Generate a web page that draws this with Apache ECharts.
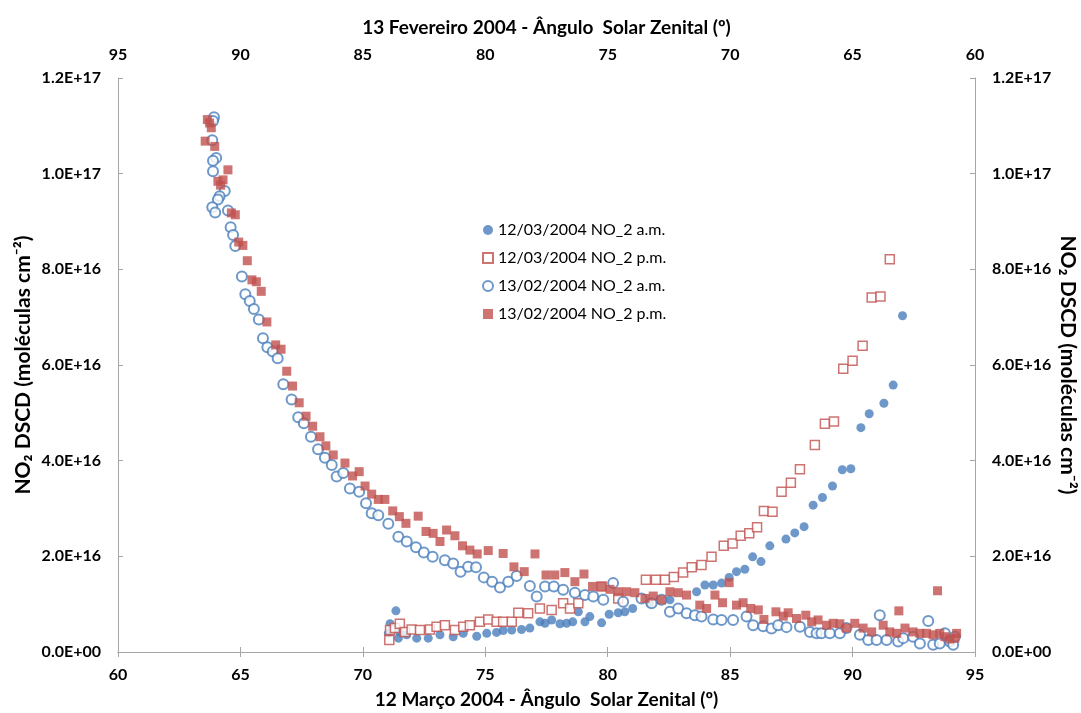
<!DOCTYPE html>
<html>
<head>
<meta charset="utf-8">
<script src="https://cdn.jsdelivr.net/npm/echarts@6/dist/echarts.min.js"></script>
<style>
  html, body { margin: 0; padding: 0; background: #fff; overflow: hidden; }
  #chart { width: 1081px; height: 713px; }
</style>
</head>
<body>
<div id="chart"></div>
<script>
// NO2 DSCD values are in units of 1e16 molecules cm-2

// 12/03/2004 a.m. (bottom axis SZA)
const mar12AmSza = [71.35, 71.11, 71.04, 71.19, 71.51, 71.45, 71.79, 72.20, 72.67, 73.15, 73.69, 74.10, 74.65, 75.06, 75.46, 75.73,
  76.08, 76.48, 76.82, 77.23, 77.44, 77.71, 78.05, 78.32, 78.57, 78.80, 79.07, 79.27, 79.75, 80.06, 80.43, 80.70,
  81.02, 81.72, 82.13, 82.54, 83.63, 83.97, 84.31, 84.65, 84.96, 85.26, 85.60, 85.92, 86.26, 86.62, 87.28, 87.64,
  88.02, 88.39, 88.77, 89.18, 89.58, 89.93, 90.34, 90.68, 91.28, 91.66, 92.04];
const mar12AmNo2 = [0.86, 0.59, 0.39, 0.46, 0.42, 0.29, 0.36, 0.29, 0.29, 0.36, 0.32, 0.39, 0.33, 0.39, 0.41, 0.45,
  0.46, 0.47, 0.50, 0.63, 0.60, 0.67, 0.59, 0.60, 0.63, 0.84, 0.63, 0.74, 0.61, 0.79, 0.82, 0.84,
  0.91, 1.02, 1.09, 1.09, 1.26, 1.40, 1.40, 1.44, 1.56, 1.68, 1.73, 1.99, 1.89, 2.22, 2.36, 2.49,
  2.62, 3.07, 3.23, 3.47, 3.81, 3.83, 4.69, 4.98, 5.20, 5.58, 7.03];

// 12/03/2004 p.m. (bottom axis SZA)
const mar12PmSza = [71.08, 71.11, 71.31, 71.51, 71.72, 71.99, 72.33, 72.74, 73.01, 73.35, 73.76, 74.10, 74.37, 74.78, 75.12, 75.46,
  75.73, 76.08, 76.35, 76.75, 77.23, 77.71, 78.18, 78.46, 78.80, 79.75, 80.43, 81.56, 81.97, 82.34, 82.70, 83.08,
  83.43, 83.83, 84.24, 84.74, 85.10, 85.43, 85.78, 86.10, 86.38, 86.73, 87.10, 87.48, 87.85, 88.46, 88.87, 89.24,
  89.62, 90.00, 90.41, 90.78, 91.14, 91.52];
const mar12PmNo2 = [0.25, 0.46, 0.50, 0.59, 0.42, 0.47, 0.46, 0.47, 0.53, 0.56, 0.46, 0.53, 0.56, 0.63, 0.68, 0.63,
  0.63, 0.63, 0.82, 0.81, 0.91, 0.88, 1.02, 0.91, 1.02, 1.37, 1.12, 1.51, 1.51, 1.51, 1.57, 1.66,
  1.77, 1.82, 1.99, 2.22, 2.27, 2.43, 2.48, 2.61, 2.95, 2.93, 3.35, 3.54, 3.82, 4.33, 4.77, 4.82,
  5.92, 6.09, 6.40, 7.41, 7.43, 8.21];

// 13/02/2004 a.m. (top axis SZA)
const feb13AmSza = [91.08, 91.12, 91.15, 90.99, 91.12, 91.12, 90.64, 90.85, 90.92, 91.15, 91.03, 90.51, 90.40, 90.30, 90.21, 89.94,
  89.80, 89.62, 89.45, 89.25, 89.08, 88.90, 88.68, 88.48, 88.25, 87.91, 87.64, 87.41, 87.12, 86.83, 86.55, 86.27,
  86.07, 85.80, 85.53, 85.15, 84.87, 84.64, 84.37, 83.96, 83.55, 83.21, 82.83, 82.51, 82.15, 81.65, 81.31, 81.01,
  80.70, 80.38, 80.06, 79.72, 79.40, 79.06, 78.72, 78.18, 77.90, 77.56, 77.20, 76.82, 76.34, 75.93, 75.59, 75.18,
  74.78, 74.37, 73.62, 73.21, 72.80, 72.46, 72.12, 71.78, 71.44, 71.17, 70.69, 70.35, 69.88, 69.33, 69.06, 68.65,
  68.31, 68.04, 67.70, 67.15, 66.74, 66.47, 66.27, 65.93, 65.52, 65.25, 64.70, 64.36, 64.02, 63.89, 63.61, 63.14,
  62.93, 62.53, 62.25, 61.91, 61.71, 61.44, 61.23, 61.03, 60.89, 60.82];
const feb13AmNo2 = [11.18, 11.10, 10.70, 10.33, 10.27, 10.05, 9.64, 9.53, 9.46, 9.30, 9.19, 9.23, 8.88, 8.72, 8.49, 7.85,
  7.48, 7.34, 7.17, 6.95, 6.56, 6.37, 6.28, 6.14, 5.60, 5.28, 4.91, 4.78, 4.50, 4.24, 4.06, 3.91,
  3.67, 3.74, 3.42, 3.35, 3.11, 2.90, 2.86, 2.68, 2.41, 2.31, 2.19, 2.08, 1.99, 1.92, 1.85, 1.68,
  1.78, 1.77, 1.56, 1.47, 1.35, 1.47, 1.59, 1.38, 1.16, 1.37, 1.37, 1.30, 1.24, 1.19, 1.16, 1.09,
  1.44, 1.05, 1.12, 1.02, 1.09, 0.84, 0.91, 0.81, 0.77, 0.74, 0.68, 0.67, 0.67, 0.74, 0.56, 0.54,
  0.49, 0.56, 0.52, 0.53, 0.42, 0.39, 0.39, 0.39, 0.39, 0.50, 0.36, 0.25, 0.25, 0.77, 0.25, 0.22,
  0.29, 0.32, 0.18, 0.65, 0.15, 0.18, 0.39, 0.22, 0.15, 0.32];

// 13/02/2004 p.m. (top axis SZA)
const feb13PmSza = [91.35, 91.26, 91.19, 91.44, 91.05, 90.51, 90.92, 90.71, 90.81, 90.37, 90.21, 90.07, 89.90, 89.72, 89.53, 89.35,
  89.15, 88.92, 88.56, 88.34, 88.11, 87.87, 87.60, 87.32, 87.05, 86.75, 86.51, 86.21, 85.73, 85.42, 85.15, 84.91,
  84.64, 84.37, 84.10, 83.78, 83.51, 83.24, 82.74, 82.42, 82.13, 81.85, 81.58, 81.24, 80.93, 80.63, 80.33, 79.88,
  79.27, 78.83, 78.41, 77.97, 77.52, 77.16, 76.75, 76.34, 75.97, 75.62, 75.25, 74.91, 74.57, 74.23, 73.89, 73.48,
  73.14, 72.80, 72.46, 72.12, 71.78, 71.24, 70.96, 70.62, 70.31, 70.04, 69.74, 69.47, 69.16, 68.85, 68.62, 68.13,
  67.83, 67.63, 67.29, 66.91, 66.67, 66.41, 66.06, 65.79, 65.52, 65.25, 64.91, 64.57, 64.22, 63.75, 63.48, 63.20,
  63.11, 62.86, 62.53, 62.25, 61.98, 61.71, 61.53, 61.44, 61.23, 61.03, 60.82, 60.75];
const feb13PmNo2 = [11.13, 11.06, 10.96, 10.68, 10.57, 10.08, 9.84, 9.87, 9.76, 9.18, 9.14, 8.57, 8.50, 8.18, 7.78, 7.74,
  7.54, 6.90, 6.42, 6.33, 5.87, 5.56, 5.21, 4.93, 4.72, 4.50, 4.31, 4.12, 3.95, 3.68, 3.77, 3.47,
  3.30, 3.19, 3.19, 2.95, 2.83, 2.69, 2.84, 2.52, 2.48, 2.31, 2.55, 2.43, 2.22, 2.13, 2.05, 2.12,
  2.06, 1.78, 1.68, 2.05, 1.61, 1.61, 1.66, 1.47, 1.63, 1.37, 1.37, 1.31, 1.26, 1.26, 1.24, 1.12,
  1.17, 1.09, 1.26, 1.24, 1.19, 0.98, 0.91, 1.19, 1.03, 1.45, 0.98, 1.03, 0.91, 0.88, 0.68, 0.84,
  0.75, 0.82, 0.70, 0.77, 0.63, 0.67, 0.56, 0.60, 0.59, 0.50, 0.60, 0.50, 0.42, 0.56, 0.42, 0.39,
  0.86, 0.50, 0.42, 0.39, 0.39, 0.36, 1.28, 0.39, 0.32, 0.27, 0.29, 0.39];

const seriesNames = ['12/03/2004 NO_2 a.m.', '12/03/2004 NO_2 p.m.', '13/02/2004 NO_2 a.m.', '13/02/2004 NO_2 p.m.'];

const blue = '#4a7ebb';
const red = '#c0504d';
const axisGrey = '#a6a6a6';
const font = 'Lato, "Open Sans", sans-serif';

function pairs(xs, ys) {
  return xs.map((x, i) => [x, ys[i]]);
}

function sci(v) {
  const s = (v * 1e16).toExponential(1);
  const parts = s.split('e');
  const sign = parts[1][0];
  const exp = parts[1].slice(1).padStart(2, '0');
  return parts[0] + 'E' + sign + exp;
}

const xCommon = {
  type: 'value',
  min: 60,
  max: 95,
  interval: 5,
  splitLine: { show: false },
  axisLine: { show: true, lineStyle: { color: axisGrey, width: 1 } },
  axisTick: { show: true, inside: true, length: 5, lineStyle: { color: axisGrey } },
  axisLabel: { color: '#000', fontFamily: font, fontWeight: 'bold', fontSize: 16 },
  nameLocation: 'middle',
  nameMoveOverlap: false,
  nameTextStyle: { color: '#000', fontFamily: font, fontWeight: 'bold', fontSize: 19 }
};

const yCommon = {
  type: 'value',
  min: 0,
  max: 12,
  interval: 2,
  splitLine: { show: false },
  axisLine: { show: true, lineStyle: { color: axisGrey, width: 1 } },
  axisTick: { show: true, inside: true, length: 5, lineStyle: { color: axisGrey } },
  axisLabel: { color: '#000', fontFamily: font, fontWeight: 'bold', fontSize: 16, margin: 17, formatter: sci },
  name: 'NO₂ DSCD (moléculas cm⁻²)',
  nameLocation: 'middle',
  nameMoveOverlap: false,
  nameTextStyle: { color: '#000', fontFamily: font, fontWeight: 'bold', fontSize: 21 }
};

var myChart = echarts.init(document.getElementById('chart'), null, { renderer: 'canvas' });
var option = {
  backgroundColor: '#fff',
  animation: false,
  grid: { left: 118, top: 78, width: 857, height: 574, outerBoundsMode: 'none', containLabel: false },
  legend: {
    orient: 'vertical',
    left: 477,
    top: 217,
    itemWidth: 10,
    itemHeight: 10,
    itemGap: 12,
    textStyle: { color: '#000', fontFamily: font, fontSize: 16 },
    data: seriesNames
  },
  xAxis: [
    Object.assign({}, xCommon, {
      position: 'bottom',
      name: '12 Março 2004 - Ângulo  Solar Zenital (º)',
      nameGap: 38,
      axisLabel: Object.assign({}, xCommon.axisLabel, { margin: 15 })
    }),
    Object.assign({}, xCommon, {
      position: 'top',
      inverse: true,
      name: '13 Fevereiro 2004 - Ângulo  Solar Zenital (º)',
      nameGap: 41,
      axisLabel: Object.assign({}, xCommon.axisLabel, { margin: 15 })
    })
  ],
  yAxis: [
    Object.assign({}, yCommon, { position: 'left', nameGap: 84, nameRotate: 90 }),
    Object.assign({}, yCommon, { position: 'right', nameGap: 82, nameRotate: -90 })
  ],
  series: [
    {
      name: seriesNames[0],
      type: 'scatter',
      xAxisIndex: 0,
      yAxisIndex: 0,
      symbol: 'circle',
      symbolSize: 9,
      itemStyle: { color: blue },
      data: pairs(mar12AmSza, mar12AmNo2)
    },
    {
      name: seriesNames[1],
      type: 'scatter',
      xAxisIndex: 0,
      yAxisIndex: 0,
      symbol: 'rect',
      symbolSize: 9,
      itemStyle: { color: '#fff', borderColor: red, borderWidth: 1.5 },
      data: pairs(mar12PmSza, mar12PmNo2)
    },
    {
      name: seriesNames[2],
      type: 'scatter',
      xAxisIndex: 1,
      yAxisIndex: 0,
      symbol: 'circle',
      symbolSize: 10,
      itemStyle: { color: '#fff', borderColor: blue, borderWidth: 2 },
      data: pairs(feb13AmSza, feb13AmNo2)
    },
    {
      name: seriesNames[3],
      type: 'scatter',
      xAxisIndex: 1,
      yAxisIndex: 0,
      symbol: 'rect',
      symbolSize: 9,
      itemStyle: { color: red },
      data: pairs(feb13PmSza, feb13PmNo2)
    }
  ]
};
myChart.setOption(option);
</script>
</body>
</html>
